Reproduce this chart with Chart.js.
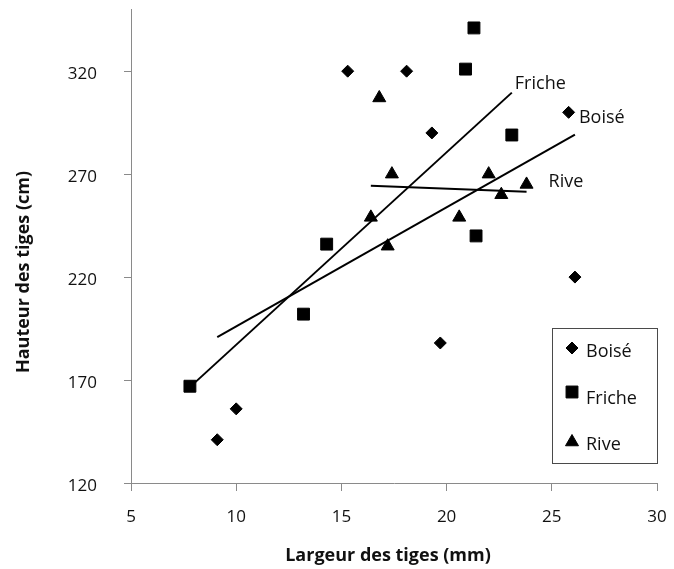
<!DOCTYPE html>
<html>
<head>
<meta charset="utf-8">
<script src="https://cdn.jsdelivr.net/npm/chart.js@4.4.1/dist/chart.umd.min.js"></script>
<style>
  html, body { margin: 0; padding: 0; background: #fff; }
  #wrap { width: 674px; height: 569px; }
</style>
</head>
<body>
<div id="wrap"><canvas id="chart" width="674" height="569"></canvas></div>
<script>
// --- data ---
const seriesNames = ['Boisé', 'Friche', 'Rive'];
const boiseX = [15.3, 18.1, 19.3, 25.8, 26.1, 19.7, 10.0, 9.1];
const boiseY = [320, 320, 290, 300, 220, 188, 156, 141];
const fricheX = [21.3, 20.9, 23.1, 14.3, 21.4, 13.2, 7.8];
const fricheY = [341, 321, 289, 236, 240, 202, 167];
const riveX = [16.8, 17.4, 22.0, 23.8, 22.6, 16.4, 20.6, 17.2];
const riveY = [307, 270, 270, 265, 260, 249, 249, 235];
const xTicks = [5, 10, 15, 20, 25, 30];
const yTicks = [120, 170, 220, 270, 320];

const axisGray = '#8a8a8a';
const textColor = '#111';
const FONT = "'Open Sans', 'Noto Sans', sans-serif";

Chart.defaults.font.family = FONT;
Chart.defaults.color = textColor;

function toPoints(xs, ys) {
  return xs.map((x, i) => ({ x: x, y: ys[i] }));
}

// least squares line over the x range of the series (like Excel trendline)
function trend(xs, ys) {
  const n = xs.length;
  const mx = xs.reduce((a, b) => a + b, 0) / n;
  const my = ys.reduce((a, b) => a + b, 0) / n;
  let sxy = 0, sxx = 0;
  xs.forEach((x, i) => { sxy += (x - mx) * (ys[i] - my); sxx += (x - mx) * (x - mx); });
  const b = sxy / sxx, a = my - b * mx;
  const x0 = Math.min(...xs), x1 = Math.max(...xs);
  return [{ x: x0, y: a + b * x0 }, { x: x1, y: a + b * x1 }];
}

const markers = [
  { style: 'rectRot', radius: 6 },
  { style: 'rect', radius: 8.4 },
  { style: 'triangle', radius: 7.5 }
];

function scatterSet(label, xs, ys, m) {
  return {
    type: 'scatter',
    label: label,
    data: toPoints(xs, ys),
    pointStyle: m.style,
    pointRadius: m.radius,
    pointHoverRadius: m.radius,
    backgroundColor: '#000',
    borderColor: '#000',
    borderWidth: 1,
    order: 1
  };
}

function trendSet(label, xs, ys) {
  return {
    type: 'line',
    label: label + ' trend',
    data: trend(xs, ys),
    borderColor: '#000',
    borderWidth: 2,
    pointRadius: 0,
    fill: false,
    order: 2
  };
}

// trend labels: offset from the end of each line
const trendLabelOffsets = { 3: [4, -17], 4: [3, -9], 5: [22, -10] };

const trendLabels = {
  id: 'trendLabels',
  afterDatasetsDraw(chart) {
    const ctx = chart.ctx;
    ctx.save();
    ctx.font = '18px ' + FONT;
    ctx.fillStyle = textColor;
    ctx.textAlign = 'left';
    ctx.textBaseline = 'middle';
    Object.keys(trendLabelOffsets).forEach(k => {
      const idx = +k;
      const meta = chart.getDatasetMeta(idx);
      const end = meta.data[meta.data.length - 1];
      const off = trendLabelOffsets[k];
      ctx.fillText(seriesNames[idx - 3], end.x + off[0], end.y + off[1]);
    });
    ctx.restore();
  }
};

const legendBox = {
  id: 'legendBox',
  afterDraw(chart) {
    const ctx = chart.ctx;
    ctx.save();
    ctx.strokeStyle = '#4a4a4a';
    ctx.lineWidth = 1;
    ctx.strokeRect(552.5, 328.5, 105, 135);
    ctx.font = '18px ' + FONT;
    ctx.textAlign = 'left';
    ctx.textBaseline = 'middle';
    const rows = [348, 392, 442];
    const textShift = [4, 7, 3];
    seriesNames.forEach((name, i) => {
      const m = markers[i];
      ctx.fillStyle = '#000';
      ctx.strokeStyle = '#000';
      Chart.helpers.drawPoint(ctx, { pointStyle: m.style, radius: m.radius, borderWidth: 1 }, 572, rows[i]);
      ctx.fillStyle = textColor;
      ctx.fillText(name, 586, rows[i] + textShift[i]);
    });
    ctx.restore();
  }
};

const axisTitles = {
  id: 'axisTitles',
  afterDraw(chart) {
    const ctx = chart.ctx;
    ctx.save();
    ctx.font = 'bold 18px ' + FONT;
    ctx.fillStyle = textColor;
    ctx.textAlign = 'center';
    ctx.textBaseline = 'middle';
    ctx.fillText('Largeur des tiges (mm)', 388, 556);
    ctx.translate(24, 272);
    ctx.rotate(-Math.PI / 2);
    ctx.fillText('Hauteur des tiges (cm)', 0, 0);
    ctx.restore();
  }
};

new Chart(document.getElementById('chart'), {
  type: 'scatter',
  data: {
    datasets: [
      scatterSet(seriesNames[0], boiseX, boiseY, markers[0]),
      scatterSet(seriesNames[1], fricheX, fricheY, markers[1]),
      scatterSet(seriesNames[2], riveX, riveY, markers[2]),
      trendSet(seriesNames[0], boiseX, boiseY),
      trendSet(seriesNames[1], fricheX, fricheY),
      trendSet(seriesNames[2], riveX, riveY)
    ]
  },
  options: {
    responsive: false,
    animation: false,
    devicePixelRatio: 1,
    layout: { padding: { top: 5, right: 17, left: 0, bottom: 0 } },
    plugins: {
      legend: { display: false },
      tooltip: { enabled: false }
    },
    scales: {
      x: {
        type: 'linear',
        min: 5,
        max: 30,
        afterBuildTicks: s => { s.ticks = xTicks.map(v => ({ value: v })); },
        afterFit: s => { s.height = 86; s.paddingLeft = 0; s.paddingRight = 0; },
        grid: { drawOnChartArea: false, drawTicks: true, tickLength: 8, color: axisGray },
        border: { color: axisGray, width: 1 },
        ticks: { color: textColor, font: { size: 17 }, padding: 16, maxRotation: 0 }
      },
      y: {
        type: 'linear',
        min: 120,
        max: 350,
        afterBuildTicks: s => { s.ticks = yTicks.map(v => ({ value: v })); },
        afterFit: s => { s.width = 131; s.paddingTop = 0; s.paddingBottom = 0; },
        grid: { drawOnChartArea: false, drawTicks: true, tickLength: 7, color: axisGray },
        border: { color: axisGray, width: 1 },
        ticks: { color: textColor, font: { size: 17 }, padding: 27, labelOffset: 3 }
      }
    }
  },
  plugins: [trendLabels, legendBox, axisTitles]
});
</script>
</body>
</html>
